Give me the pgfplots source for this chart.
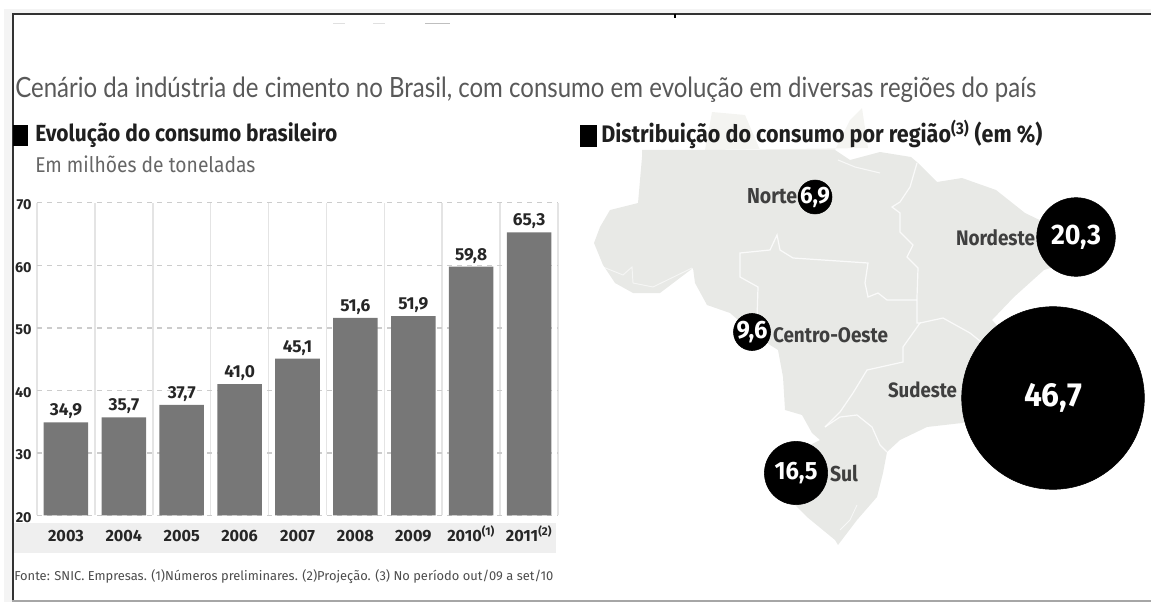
\documentclass[border=0pt]{standalone}
\usepackage{pgfplots}
\usepackage{graphicx}
\usepackage{fontspec}
\pgfplotsset{compat=1.18}
\setmainfont{Fira Sans}
\newfontfamily\thinfont{Lato}
% text of a given width in page pixels, first narrowed by a factor
\newcommand{\fitn}[3]{\resizebox{\dimexpr #1pt*3/4\relax}{!}{\scalebox{#2}[1]{#3}}}
\newcommand{\val}{\pgfmathprintnumber[use comma,fixed,fixed zerofill,precision=1,assume math mode=true]{\pgfplotspointmeta}}
\definecolor{mapfill}{HTML}{E8E9E6}
\definecolor{mapfaint}{HTML}{F4F4F1}
\definecolor{barfill}{HTML}{777777}
\definecolor{band}{HTML}{EFEFEF}
\definecolor{labelgray}{HTML}{3F3F3F}
\definecolor{gridv}{HTML}{E4E4E4}
\definecolor{gridh}{HTML}{CCCCCC}
\pgfplotsset{
  bubble/.style 2 args={only marks, mark=*, mark size=#1pt, black, point meta=explicit,
    nodes near coords={\fitn{#2}{0.95}{\bfseries\val}},
    every node near coord/.append style={anchor=center, inner sep=0pt, text=white}}
}
\begin{document}
\begin{tikzpicture}
\useasboundingbox (0,0) rectangle (863.25pt,451.5pt);
% Page-sized layer in pixel-like units: frame, headings, map and bubbles
\begin{axis}[
  at={(0,0)}, anchor=south west, scale only axis,
  width=863.25pt, height=451.5pt,
  xmin=0, xmax=1151, ymin=0, ymax=602, y dir=reverse,
  hide axis, clip=false]
% frame and the pale scan margin
\addplot[draw=none, fill=band!70] coordinates {(4,10) (12,10) (12,602) (4,602)} -- cycle;
\addplot[draw=none, fill=band!70] coordinates {(4,9) (1151,9) (1151,13) (4,13)} -- cycle;
\addplot[draw=black!80, line width=1.5pt] coordinates {(12.5,602) (12.5,14) (1151,14)};
\addplot[draw=black!35, line width=0.9pt] coordinates {(12,601) (1151,601)};
\addplot[draw=black, line width=0.9pt] coordinates {(675,14) (675,18)};
\addplot[draw=black!25, line width=0.7pt] coordinates {(425,23) (450,23)};
\addplot[draw=black!12, line width=0.7pt] coordinates {(333,23) (345,23)};
\addplot[draw=black!12, line width=0.7pt] coordinates {(373,23) (385,23)};

% faint northern part of the map, behind the heading
\addplot[draw=none, fill=mapfaint] coordinates {
  (705,150) (712,112) (745,115) (760,150) (835,150) (850,120) (862,108) (868,148)} -- cycle;
% Brazil silhouette
\addplot[draw=none, fill=mapfill] coordinates {
  (642,150) (835,150) (850,160) (880,152) (911,157) (918,163) (937,182) (962,178) (996,190)
  (1025,213) (1050,225) (1070,250) (1060,265) (1044,270) (1014,297) (992,320)
  (1010,340) (1020,410) (962,423) (927,427) (900,440) (887,452) (883,473) (877,497)
  (857,520) (838,545) (835,540) (807,517) (790,500) (785,480) (800,450) (820,440)
  (812,433) (802,415) (785,410) (783,377) (778,350) (770,345) (752,332) (730,313)
  (707,305) (695,283) (693,268) (660,293) (633,293) (615,283) (603,265) (594,243)
  (600,227) (610,210) (638,203) (642,157)} -- cycle;
% regional borders
\addplot[draw=white!100, opacity=0.8, line width=0.9pt] coordinates {
  (917,163) (910,187) (900,202) (892,207) (900,213) (900,232) (913,245) (907,257)
  (918,268) (917,297) (917,323) (920,323) (903,347) (903,362) (867,370) (853,393)
  (840,412) (825,427)};
\addplot[draw=white, opacity=0.8, line width=0.9pt] coordinates {
  (825,427) (840,417) (857,415) (872,427) (880,445) (887,452)};
\addplot[draw=white, opacity=0.8, line width=0.9pt] coordinates {
  (920,323) (943,318) (970,333) (985,345)};
\addplot[draw=white, opacity=0.8, line width=0.9pt] coordinates {
  (757,318) (758,287) (740,277) (740,253) (770,250) (777,235) (780,250) (793,258)
  (868,263) (865,283) (868,297) (878,293) (887,300) (917,300)};
\addplot[draw=white, opacity=0.6, line width=0.7pt] coordinates {
  (603,267) (623,275) (632,267) (633,283) (653,287) (692,268)};
\addplot[draw=white, opacity=0.7, line width=0.8pt] coordinates {
  (838,160) (855,167) (880,173)};
\addplot[draw=white, opacity=0.7, line width=0.6pt] coordinates {
  (857,505) (850,520) (840,530)};

% band behind the year labels
\addplot[draw=none, fill=band] coordinates {(14,523) (556,523) (556,553) (14,553)} -- cycle;

% heading squares
\addplot[draw=none, fill=black] coordinates {(13,125) (28,125) (28,146) (13,146)} -- cycle;
\addplot[draw=none, fill=black] coordinates {(580,125) (597,125) (597,147) (580,147)} -- cycle;

% consumption share by region (%); mark size is the bubble radius
\addplot[bubble={12.75}{30}] coordinates {(815,197) [6.9]};
\addplot[bubble={29.5}{50}] coordinates {(1076,237) [20.3]};
\addplot[bubble={13.9}{31}] coordinates {(752,332) [9.6]};
\addplot[bubble={68.5}{58}] coordinates {(1053,398) [46.7]};
\addplot[bubble={23.7}{43}] coordinates {(796,473) [16.5]};

\node[anchor=base west, inner sep=0pt, text=black!65] at (axis cs:15,98)
  {\fitn{1021}{0.86}{\thinfont\fontsize{18}{20}\selectfont Cenário da indústria de cimento no Brasil, com consumo em evolução em diversas regiões do país}};
\node[anchor=base west, inner sep=0pt, text=black!88] at (axis cs:35,142)
  {\fitn{302}{0.9}{\bfseries\fontsize{14}{16}\selectfont Evolução do consumo brasileiro}};
\node[anchor=base west, inner sep=0pt, text=black!60] at (axis cs:35,172)
  {\fitn{220}{0.9}{\fontsize{14}{16}\selectfont Em milhões de toneladas}};
\node[anchor=base west, inner sep=0pt, text=black!88] at (axis cs:601,143)
  {\fitn{441}{0.9}{\bfseries\fontsize{14}{16}\selectfont Distribuição do consumo por região\textsuperscript{(3)} (em \%)}};
\node[anchor=base west, inner sep=0pt, text=black!70] at (axis cs:14,580)
  {\fitn{539}{1}{\fontsize{8}{10}\selectfont Fonte: SNIC. Empresas. (1)Números preliminares. (2)Projeção. (3) No período out/09 a set/10}};

% region names
\node[anchor=center, inner sep=0pt, text=labelgray] at (axis cs:772,196) {\fitn{50}{0.9}{\bfseries Norte}};
\node[anchor=center, inner sep=0pt, text=labelgray] at (axis cs:995.5,238) {\fitn{79}{0.9}{\bfseries Nordeste}};
\node[anchor=center, inner sep=0pt, text=labelgray] at (axis cs:830.5,335) {\fitn{115}{0.9}{\bfseries Centro-Oeste}};
\node[anchor=center, inner sep=0pt, text=labelgray] at (axis cs:922.5,390) {\fitn{69}{0.9}{\bfseries Sudeste}};
\node[anchor=center, inner sep=0pt, text=labelgray] at (axis cs:844,473) {\fitn{28}{0.9}{\bfseries Sul}};
\end{axis}

% Brazilian consumption, million tonnes
\begin{axis}[
  at={(27.75pt,64.875pt)}, anchor=south west, scale only axis,
  width=390.75pt, height=234.4pt,
  xmin=-0.5, xmax=8.5, ymin=20, ymax=70,
  ybar, bar width=33.4pt,
  axis line style={draw=none},
  xtick={0,...,8},
  xticklabels={2003,2004,2005,2006,2007,2008,2009,2010\textsuperscript{(1)},2011\textsuperscript{(2)}},
  minor xtick={-0.5,0.5,1.5,2.5,3.5,4.5,5.5,6.5,7.5,8.5},
  ytick={20,30,40,50,60,70},
  major tick length=0pt, minor tick length=0pt,
  xmajorgrids=false, xminorgrids=true, ymajorgrids=true,
  minor x grid style={draw=gridv, line width=1.2pt},
  y grid style={draw=gridh, line width=0.8pt, dash pattern=on 4pt off 3.5pt},
  tick label style={text=black!85},
  xticklabel style={font=\bfseries\fontsize{12.2}{13}\selectfont, anchor=base, yshift=-19.2pt},
  yticklabel style={font=\bfseries\fontsize{10.8}{11}\selectfont, anchor=east, xshift=-0.5pt, yshift=-1.5pt,
    /pgf/number format/.cd, fixed, precision=0, assume math mode=true},
  nodes near coords,
  every node near coord/.append style={font=\bfseries\fontsize{13}{14}\selectfont, text=black!85, yshift=-1pt,
    /pgf/number format/.cd, use comma, fixed, fixed zerofill, precision=1, assume math mode=true},
  ]
\addplot[draw=none, fill=barfill, bar shift=0pt] coordinates {
  (0,34.9) (1,35.7) (2,37.7) (3,41.0) (4,45.1) (5,51.6) (6,51.9) (7,59.8) (8,65.3)};
\end{axis}
\end{tikzpicture}
\end{document}
